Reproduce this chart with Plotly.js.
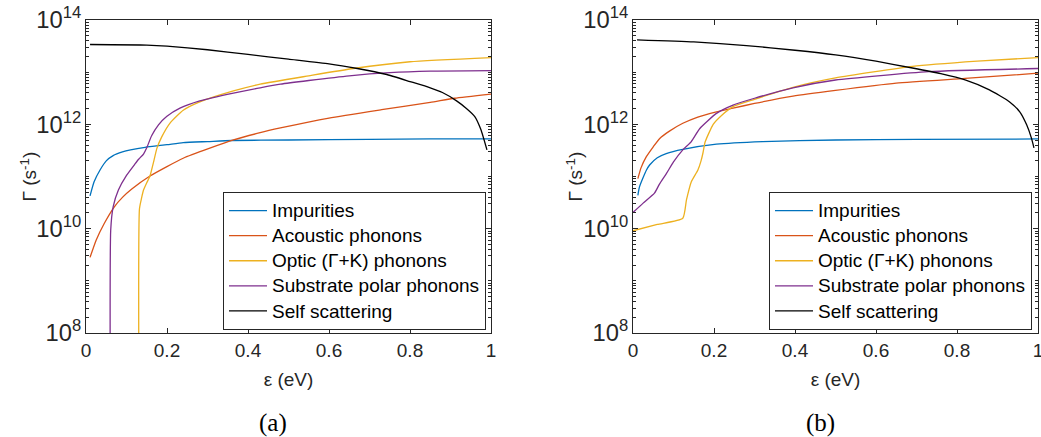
<!DOCTYPE html>
<html>
<head>
<meta charset="utf-8">
<script src="https://cdn.plot.ly/plotly-3.0.1.min.js"></script>
<style>
  html, body { margin: 0; padding: 0; background: #fff; }
  #chart { width: 1041px; height: 437px; }
</style>
</head>
<body>
<div id="chart"></div>
<script>
// Scattering rates Γ(ε) for two configurations, (a) and (b).
// Rates are stored as log10(Γ / s^-1) and converted below.

const seriesNames = ['Impurities', 'Acoustic phonons', 'Optic (Γ+K) phonons',
                     'Substrate polar phonons', 'Self scattering'];
const seriesColors = ['#0072BD', '#D95319', '#EDB120', '#7E2F8E', '#000000'];

// ---- panel (a) ----
const aImpE   = [0.01, 0.02, 0.035, 0.05, 0.067, 0.09, 0.11, 0.146, 0.2, 0.24, 0.3, 0.36, 0.5, 0.7, 0.85, 1.0];
const aImpLog = [10.63, 10.90, 11.13, 11.30, 11.40, 11.47, 11.51, 11.56, 11.61, 11.65, 11.67, 11.69, 11.70, 11.71, 11.72, 11.72];

const aAcE   = [0.01, 0.025, 0.045, 0.07, 0.09, 0.113, 0.158, 0.24, 0.364, 0.43, 0.48, 0.6, 0.73, 0.85, 0.91, 1.0];
const aAcLog = [9.45, 9.78, 10.10, 10.42, 10.60, 10.76, 11.01, 11.35, 11.70, 11.84, 11.93, 12.12, 12.28, 12.42, 12.50, 12.58];

const aOptE   = [0.131, 0.132, 0.137, 0.142, 0.15, 0.158, 0.166, 0.175, 0.187, 0.207, 0.24, 0.281, 0.364, 0.43, 0.55, 0.66, 0.8, 1.0];
const aOptLog = [6.0, 10.38, 10.58, 10.74, 10.88, 11.01, 11.25, 11.54, 11.76, 12.02, 12.27, 12.43, 12.64, 12.77, 12.93, 13.07, 13.20, 13.28];

const aSubE   = [0.06, 0.061, 0.067, 0.08, 0.1, 0.121, 0.13, 0.142, 0.15, 0.162, 0.179, 0.199, 0.232, 0.281, 0.364, 0.43, 0.48, 0.55, 0.65, 0.75, 0.85, 1.0];
const aSubLog = [6.0, 9.97, 10.42, 10.74, 11.02, 11.24, 11.33, 11.43, 11.55, 11.78, 11.99, 12.15, 12.31, 12.45, 12.60, 12.70, 12.77, 12.84, 12.93, 12.99, 13.02, 13.03];

const aSelfE   = [0.01, 0.15, 0.2, 0.3, 0.4, 0.5, 0.6, 0.67, 0.74, 0.8, 0.85, 0.88, 0.915, 0.94, 0.96, 0.975, 0.99];
const aSelfLog = [13.53, 13.52, 13.50, 13.43, 13.34, 13.25, 13.16, 13.07, 12.96, 12.82, 12.70, 12.61, 12.45, 12.30, 12.15, 11.90, 11.51];

// ---- panel (b) ----
const bImpE   = [0.012, 0.016, 0.025, 0.033, 0.041, 0.06, 0.082, 0.123, 0.206, 0.32, 0.5, 0.7, 1.0];
const bImpLog = [10.64, 10.80, 10.98, 11.12, 11.22, 11.36, 11.44, 11.52, 11.62, 11.67, 11.70, 11.71, 11.72];

const bAcE   = [0.012, 0.02, 0.033, 0.05, 0.066, 0.09, 0.123, 0.16, 0.206, 0.247, 0.3, 0.395, 0.5, 0.65, 0.82, 1.0];
const bAcLog = [10.96, 11.17, 11.38, 11.57, 11.73, 11.87, 12.02, 12.14, 12.24, 12.31, 12.40, 12.54, 12.65, 12.79, 12.88, 12.98];

const bOptE   = [0.0, 0.06, 0.123, 0.132, 0.144, 0.16, 0.168, 0.173, 0.178, 0.198, 0.22, 0.247, 0.3, 0.395, 0.5, 0.69, 0.85, 1.0];
const bOptLog = [9.96, 10.08, 10.20, 10.55, 10.90, 11.12, 11.30, 11.46, 11.66, 12.00, 12.18, 12.34, 12.48, 12.71, 12.89, 13.11, 13.21, 13.28];

const bSubE   = [0.0, 0.025, 0.053, 0.065, 0.082, 0.1, 0.123, 0.144, 0.165, 0.206, 0.247, 0.3, 0.395, 0.5, 0.73, 1.0];
const bSubLog = [10.31, 10.49, 10.68, 10.85, 11.05, 11.28, 11.51, 11.67, 11.92, 12.21, 12.37, 12.50, 12.70, 12.85, 13.01, 13.07];

const bSelfE   = [0.01, 0.15, 0.28, 0.4, 0.5, 0.6, 0.69, 0.76, 0.82, 0.88, 0.93, 0.955, 0.972, 0.984, 0.99];
const bSelfLog = [13.62, 13.58, 13.51, 13.42, 13.33, 13.21, 13.08, 12.97, 12.85, 12.66, 12.43, 12.24, 11.99, 11.73, 11.55];

const panelA = [[aImpE, aImpLog], [aAcE, aAcLog], [aOptE, aOptLog], [aSubE, aSubLog], [aSelfE, aSelfLog]];
const panelB = [[bImpE, bImpLog], [bAcE, bAcLog], [bOptE, bOptLog], [bSubE, bSubLog], [bSelfE, bSelfLog]];

const FONT = 'Liberation Sans, Arial, Helvetica, sans-serif';
const SERIF = 'Liberation Serif, DejaVu Serif, serif';
const AXC = '#262626';

// legend rows are spaced by the 17px legend font; the entry text itself is 19px
const legendLabel = s => '<span style="font-size:19px">' + s + '</span>';

function makeTraces(panel, xa, ya, legendId) {
  return panel.map(([e, lg], i) => ({
    x: e,
    y: lg.map(v => Math.pow(10, v)),
    type: 'scatter',
    mode: 'lines',
    name: legendLabel(seriesNames[i]),
    line: { color: seriesColors[i], width: 1.3, shape: 'spline', smoothing: 0.5 },
    xaxis: xa, yaxis: ya,
    legend: legendId,
    hoverinfo: 'skip'
  }));
}

// empty carriers so the minor-tick overlay axes get drawn
function tickCarrier(xa, ya) {
  return { x: [], y: [], type: 'scatter', mode: 'lines', xaxis: xa, yaxis: ya,
           showlegend: false, hoverinfo: 'skip' };
}

const traces = [
  ...makeTraces(panelA, 'x', 'y', 'legend'),
  ...makeTraces(panelB, 'x2', 'y2', 'legend2'),
  tickCarrier('x', 'y3'),
  tickCarrier('x2', 'y4')
];

function xAxis(domain, anchor) {
  return {
    domain, anchor, range: [0, 1],
    tickvals: [0, 0.2, 0.4, 0.6, 0.8, 1],
    ticktext: ['0', '0.2', '0.4', '0.6', '0.8', '1'],
    ticks: 'inside', ticklen: 5, tickcolor: AXC,
    ticklabeloverflow: 'allow',
    showline: true, linecolor: AXC, linewidth: 1, mirror: 'ticks',
    showgrid: false, zeroline: false,
    tickfont: { family: FONT, size: 19, color: AXC },
    title: { text: 'ε (eV)', font: { family: FONT, size: 19, color: AXC }, standoff: 12 },
    automargin: false, fixedrange: true
  };
}

// Major log axis: labelled every two decades
function yAxis(domain, anchor) {
  return {
    domain, anchor, type: 'log', range: [8, 14],
    tick0: 0, dtick: 2, exponentformat: 'power', showexponent: 'all',
    ticks: 'inside', ticklen: 5, tickcolor: AXC,
    showline: true, linecolor: AXC, linewidth: 1, mirror: 'ticks',
    showgrid: false, zeroline: false,
    tickfont: { family: FONT, size: 19, color: AXC },
    automargin: false, fixedrange: true
  };
}

// Overlay log axis that only carries the short minor ticks (1..9 per decade)
function yMinor(overlay, anchor) {
  return {
    overlaying: overlay, anchor, type: 'log', range: [8, 14],
    dtick: 'D1', ticks: 'inside', ticklen: 3, tickcolor: AXC, tickwidth: 1,
    showticklabels: false, showline: false, mirror: 'ticks',
    showgrid: false, zeroline: false,
    automargin: false, fixedrange: true
  };
}

const W = 1041, H = 437;
const yDom = [1 - 333 / H, 1 - 20 / H];

function legendBox(xLeft) {
  return {
    x: xLeft / W, y: 1 - 192 / H, xanchor: 'left', yanchor: 'top',
    bgcolor: '#ffffff', bordercolor: AXC, borderwidth: 1,
    font: { family: FONT, size: 17, color: '#000' },
    itemwidth: 38, tracegroupgap: 0
  };
}

function yTitle(xPix) {
  return {
    text: 'Γ (s<sup>-1</sup>)', xref: 'paper', yref: 'paper',
    x: xPix / W, y: 1 - 176.5 / H, xanchor: 'center', yanchor: 'middle',
    textangle: -90, showarrow: false,
    font: { family: FONT, size: 19, color: AXC }
  };
}

function caption(text, xPix) {
  return {
    text, xref: 'paper', yref: 'paper', x: xPix / W, y: 1 - 423 / H,
    xanchor: 'center', yanchor: 'middle', showarrow: false,
    font: { family: SERIF, size: 25, color: '#000' }
  };
}

const layout = {
  width: W, height: H,
  margin: { l: 0, r: 0, t: 0, b: 0 },
  paper_bgcolor: '#ffffff', plot_bgcolor: '#ffffff',
  showlegend: true,
  xaxis: xAxis([86 / W, 491 / W], 'y'),
  yaxis: yAxis(yDom, 'x'),
  yaxis3: yMinor('y', 'x'),
  xaxis2: xAxis([633 / W, 1038 / W], 'y2'),
  yaxis2: yAxis(yDom, 'x2'),
  yaxis4: yMinor('y2', 'x2'),
  legend: legendBox(223),
  legend2: legendBox(769),
  annotations: [yTitle(28), yTitle(574), caption('(a)', 273), caption('(b)', 820)]
};

Plotly.newPlot('chart', traces, layout, { displayModeBar: false, staticPlot: true });
</script>
</body>
</html>
